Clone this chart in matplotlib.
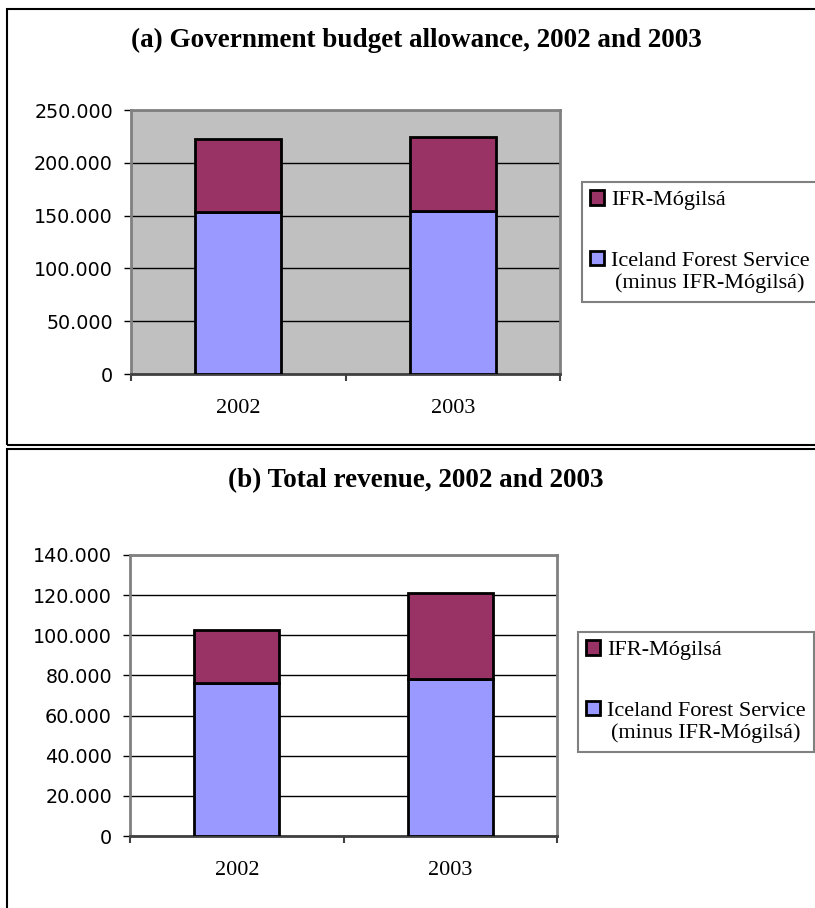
import matplotlib.pyplot as plt
from matplotlib.patches import Patch, Rectangle
from matplotlib.legend_handler import HandlerPatch
from matplotlib.ticker import FuncFormatter

# values (thousand ISK)
years = ["2002", "2003"]
budget_ifs = [153500, 154400]
budget_ifr = [69000, 69800]
revenue_ifs = [76000, 78200]
revenue_ifr = [26800, 43000]

IFR_COLOR = "#993366"
IFS_COLOR = "#9999FF"
W, H = 815, 908


def fx(px):
    return px / W


def fy(py):
    return 1 - py / H


class RaisedPatch(HandlerPatch):
    # puts the legend square next to the first line of a two-line label
    def __init__(self, raise_by, **kw):
        super().__init__(**kw)
        self.raise_by = raise_by

    def _create_patch(self, legend, orig_handle, xdescent, ydescent, width, height, fontsize):
        return Rectangle((-xdescent, -ydescent + self.raise_by), width, height)


fig = plt.figure(figsize=(W / 100, H / 100), dpi=100)


def dotted(v, pos):
    return f"{int(v):,}".replace(",", ".")


def panel(box, title, title_y, ifs, ifr, ymax, step, face, leg_xy):
    left, top, right, bottom = box
    ax = fig.add_axes([fx(left), fy(bottom), fx(right) - fx(left), fy(top) - fy(bottom)])
    x = range(len(years))
    ax.bar(x, ifs, width=0.4, color=IFS_COLOR, edgecolor="black", linewidth=2, zorder=3)
    ax.bar(x, ifr, bottom=ifs, width=0.4, color=IFR_COLOR, edgecolor="black", linewidth=2, zorder=3)
    ax.set_xlim(-0.5, 1.5)
    ax.set_ylim(0, ymax)
    ax.set_facecolor(face)

    ax.set_yticks(range(0, ymax + 1, step))
    ax.yaxis.set_major_formatter(FuncFormatter(dotted))
    ax.yaxis.grid(True, color="black", linewidth=1)
    ax.set_axisbelow(True)
    ax.tick_params(axis="y", length=5, width=1, color="black", pad=8)
    for lab in ax.get_yticklabels():
        lab.set_fontfamily("DejaVu Sans")
        lab.set_fontsize(13.8)

    ax.set_xticks([-0.5, 0.5, 1.5])
    ax.set_xticklabels([])
    ax.set_xticks([0, 1], minor=True)
    ax.set_xticklabels(years, minor=True, fontfamily="Liberation Serif", fontsize=16)
    ax.tick_params(axis="x", which="major", length=5, width=1.5, color="#404040")
    ax.tick_params(axis="x", which="minor", length=0, pad=18)

    for side in ["top", "right", "left"]:
        ax.spines[side].set_color("#808080")
        ax.spines[side].set_linewidth(2)
    ax.spines["bottom"].set_color("#404040")
    ax.spines["bottom"].set_linewidth(2)

    fig.text(fx(416), fy(title_y), title, ha="center", va="center",
             fontfamily="Liberation Serif", fontweight="bold", fontsize=19.5)

    h_ifr = Patch(facecolor=IFR_COLOR, edgecolor="black", linewidth=2)
    h_ifs = Patch(facecolor=IFS_COLOR, edgecolor="black", linewidth=2)
    labels = ["IFR-Mógilsá", "Iceland Forest Service\n(minus IFR-Mógilsá)"]
    leg = ax.legend([h_ifr, h_ifs], labels, loc="upper left",
                    bbox_to_anchor=(fx(leg_xy[0]), fy(leg_xy[1])),
                    bbox_transform=fig.transFigure, borderaxespad=0,
                    prop={"family": "Liberation Serif", "size": 16},
                    fancybox=False, framealpha=1, edgecolor="#808080",
                    handlelength=0.62, handleheight=0.62, handletextpad=0.3,
                    labelspacing=1.85, borderpad=0.38,
                    handler_map={h_ifs: RaisedPatch(9.6)})
    leg.get_frame().set_linewidth(1.5)
    leg.get_texts()[1].set_multialignment("center")
    return ax


panel((131, 110, 560, 374), "(a) Government budget allowance, 2002 and 2003", 40,
      budget_ifs, budget_ifr, 250000, 50000, "#C0C0C0", (582, 182))
panel((130, 555, 557, 836), "(b) Total revenue, 2002 and 2003", 481,
      revenue_ifs, revenue_ifr, 140000, 20000, "white", (578, 632))

# the two boxes round the charts
fig.add_artist(Rectangle((fx(7), fy(445)), 1.1, fy(9) - fy(445), transform=fig.transFigure,
                         fill=False, edgecolor="black", linewidth=1.5))
fig.add_artist(Rectangle((fx(7), -0.1), 1.1, fy(449) + 0.1, transform=fig.transFigure,
                         fill=False, edgecolor="black", linewidth=1.5))

fig.savefig("out.png", dpi=100)
